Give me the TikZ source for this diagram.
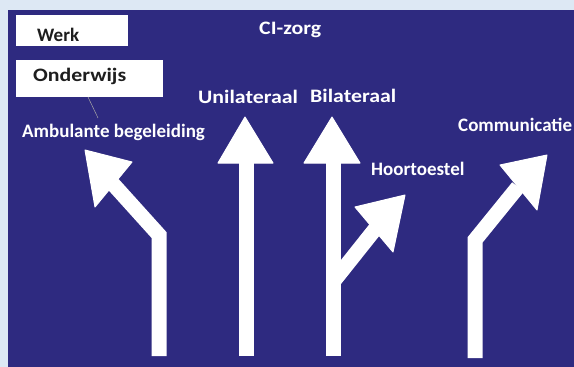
\documentclass[tikz,border=0pt]{standalone}
\usepackage{fontspec}
\setmainfont{Carlito}
\definecolor{bgnavy}{RGB}{46,42,128}
\definecolor{frame}{RGB}{221,232,244}
\definecolor{boxtext}{RGB}{30,30,30}
\newcommand{\widetxt}[1]{\scalebox{1.15}[1]{#1}}
\begin{document}
\begin{tikzpicture}[x=1pt,y=-1pt,
  lbl/.style={anchor=base west,inner sep=0pt,text=white,font=\fontsize{19}{21}\selectfont\bfseries},
  boxlbl/.style={anchor=base west,inner sep=0pt,text=boxtext,font=\fontsize{19}{21}\selectfont\bfseries},
  wbox/.style={fill=white,draw=none},
  shaft/.style={draw=white,line width=15pt,line join=miter},
  head/.style={fill=white,draw=white,line width=1pt,line join=round}]
\useasboundingbox (0,0) rectangle (574,367);
\fill[frame] (0,0) rectangle (574,367);
\fill[bgnavy] (8,10) rectangle (574,367);
% boxes
\fill[wbox] (16,15) rectangle (128,46);
\fill[wbox] (16,60) rectangle (163,97);
\node[boxlbl] (werk) at (37,41) {Werk};
\node[boxlbl] (onderwijs) at (33,81) {\widetxt{Onderwijs}};
\draw[gray!70,line width=0.5pt] (88,97) -- (98,118);
% labels
\node[lbl] (ci) at (259,34) {\widetxt{CI-zorg}};
\node[lbl] (uni) at (198,103) {\widetxt{Unilateraal}};
\node[lbl] (bi) at (310,102) {\widetxt{Bilateraal}};
\node[lbl] (amb) at (22,137) {Ambulante begeleiding};
\node[lbl] (comm) at (458,131) {Communicatie};
\node[lbl] (hoor) at (371,175) {Hoortoestel};
% arrows
\draw[shaft] (159,356) -- (159,235) -- (113,184);
\fill[head] (85,150) -- (132,162) -- (95,207) -- cycle;
\draw[shaft] (246,356) -- (246,160);
\fill[head] (245,117) -- (273,163) -- (218,163) -- cycle;
\draw[shaft] (333,356) -- (333,160);
\fill[head] (332,117) -- (360,163) -- (304,163) -- cycle;
\draw[shaft] (333,282) -- (376,228);
\fill[head] (405,195) -- (393,252) -- (355,207) -- cycle;
\draw[shaft] (475,358) -- (475,240) -- (518,187);
\fill[head] (547,155) -- (537,210) -- (500,165) -- cycle;
\end{tikzpicture}
\end{document}
